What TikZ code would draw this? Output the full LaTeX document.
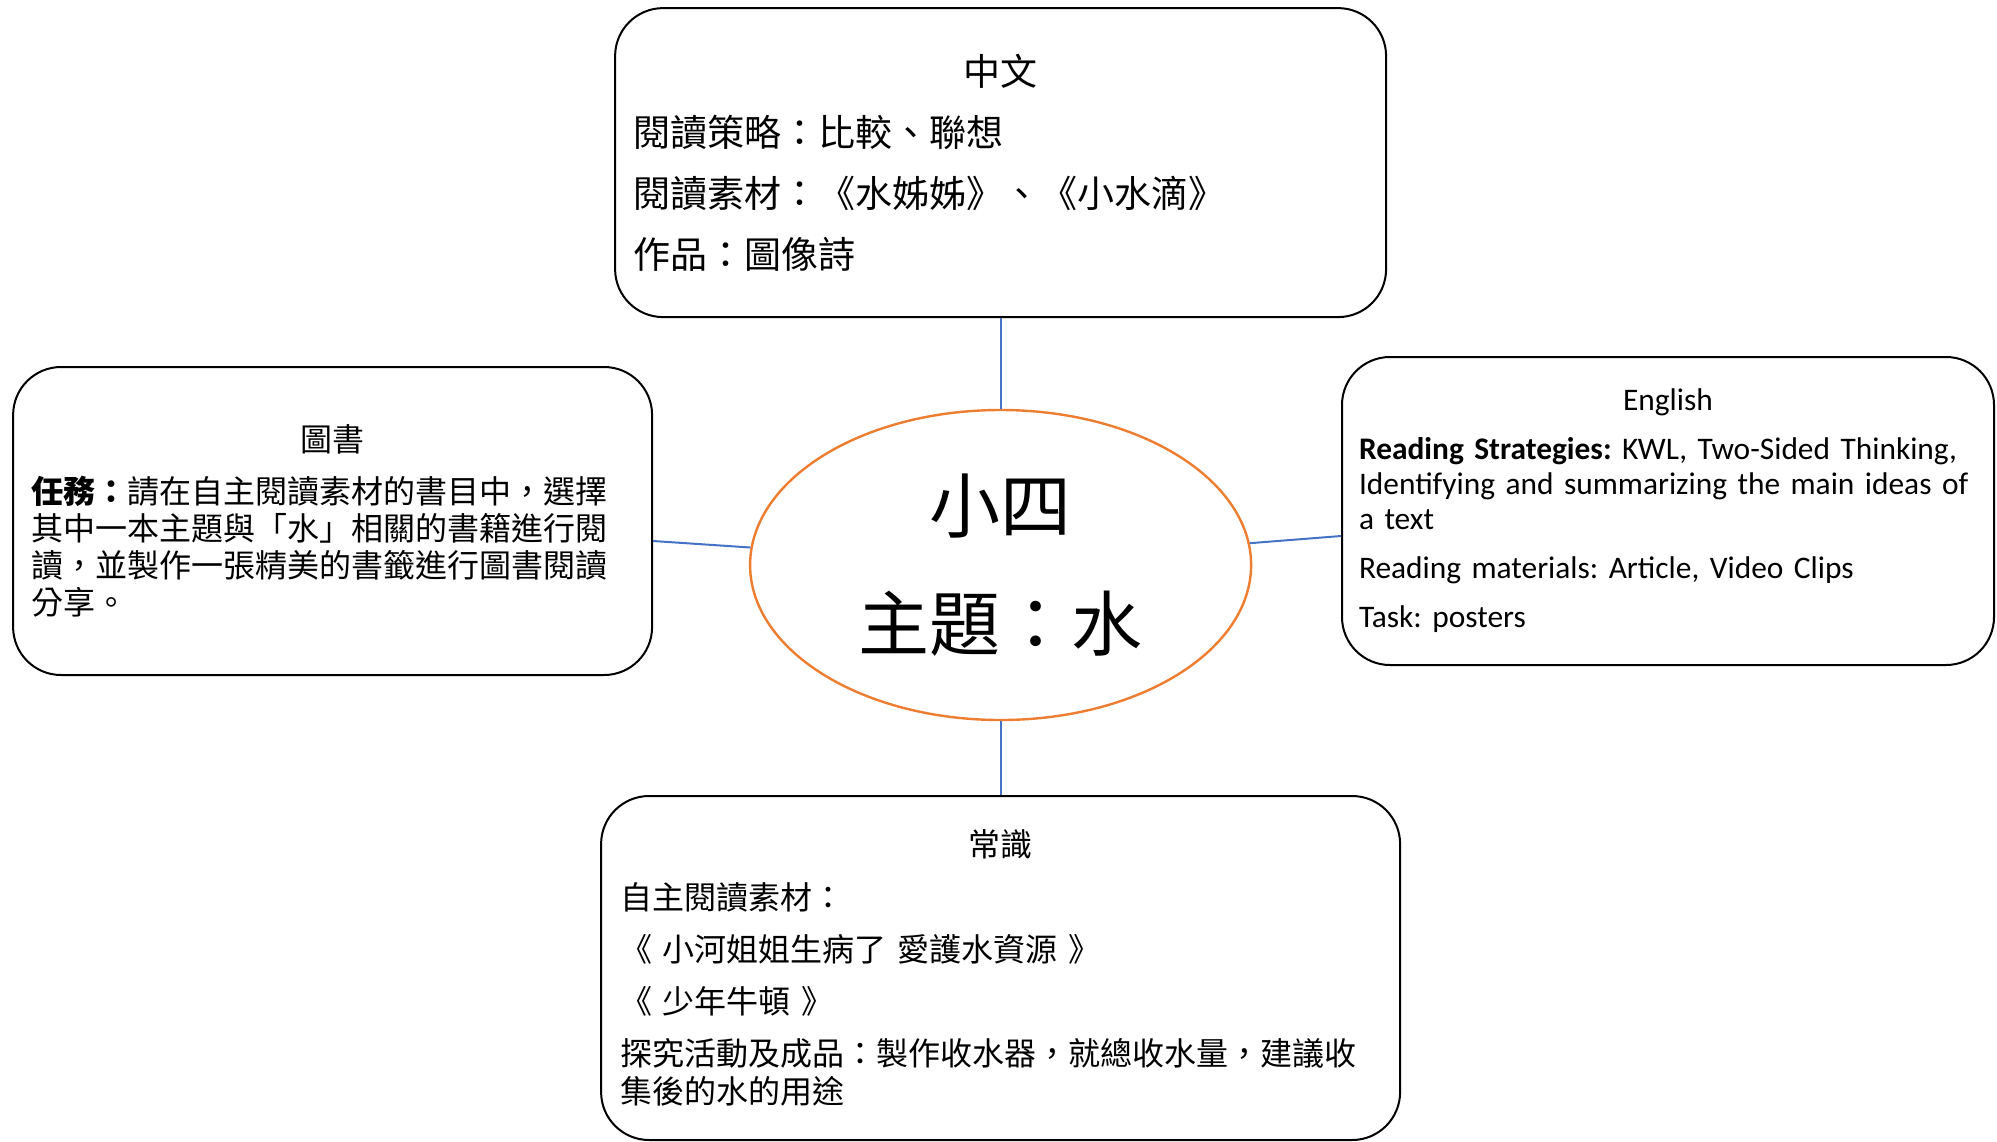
\documentclass[tikz,border=0pt]{standalone}
\usepackage{fontspec}
\newfontfamily\cjk{Noto Sans CJK TC}
\newfontfamily\eng{Carlito}
\usepackage{tikz}
\usetikzlibrary{shapes.geometric}
\definecolor{linkblue}{HTML}{4472C4}
\definecolor{ovalorange}{HTML}{ED7D31}

\begin{document}
\begin{tikzpicture}[box/.style={draw, line width=1pt, rounded corners=24pt, align=left, inner xsep=9pt, inner ysep=0pt}, theme/.style={ellipse, draw=ovalorange, line width=1.2pt, minimum width=250.5pt, minimum height=155pt, inner sep=0pt, align=center}, link/.style={draw=linkblue, line width=1pt}]
  \useasboundingbox (0pt, 0pt) rectangle (998.5pt, -570.5pt);
  \draw (500.3pt, -282.5pt)node[theme, font=\cjk\fontsize{35.5}{59}\selectfont](0){小四\\主題：水};
  \draw (500.3pt, -81.3pt)node[box, text width=367.5pt, minimum height=154.5pt, font=\cjk\fontsize{18.5}{30.5}\selectfont](1){{\centering 中文\par}閱讀策略：比較、聯想\\閱讀素材：《水姊姊》、《小水滴》\\作品：圖像詩};
  \draw (166.3pt, -260.5pt)node[box, text width=301.5pt, minimum height=154pt, font=\cjk\fontsize{16}{18.5}\selectfont](2){{\centering 圖書\par}\vspace{7.5pt}\textbf{任務：}請在自主閱讀素材的書目中，選擇\\其中一本主題與「水」相關的書籍進行閱\\讀，並製作一張精美的書籤進行圖書閱讀\\分享。};
  \draw (834.0pt, -255.5pt)node[box, text width=309pt, inner xsep=8.5pt, minimum height=154pt, font=\eng\fontsize{15.7}{17.5}\selectfont\frenchspacing](3){{\centering English\par}\vspace{7pt}\textbf{Reading Strategies:} KWL, Two-Sided Thinking,\\Identifying and summarizing the main ideas of\\a text\\[7pt]Reading materials: Article, Video Clips\\[7pt]Task: posters};
  \draw (500.3pt, -484.0pt)node[box, text width=380.5pt, inner xsep=9.5pt, minimum height=172pt, font=\cjk\fontsize{16}{19}\selectfont](4){{\centering 常識\par}\vspace{7.5pt}自主閱讀素材：\\[7pt]《 小河姐姐生病了 愛護水資源 》\\[7pt]《 少年牛頓 》\\[7pt]探究活動及成品：製作收水器，就總收水量，建議收\\集後的水的用途};

  \path[link] (1) edge (0);
  \path[link] (0) edge (4);
  \path[link] ([yshift=-10pt]2.east) edge (0.176);
  \path[link] (0.5) edge ([yshift=-12.5pt]3.west);
\end{tikzpicture}
\end{document}
